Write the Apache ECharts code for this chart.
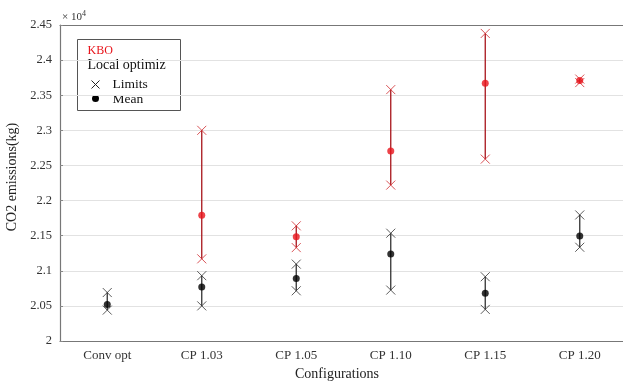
<!DOCTYPE html>
<html>
<head>
<meta charset="utf-8">
<script src="https://cdn.jsdelivr.net/npm/echarts/dist/echarts.min.js"></script>
<style>
  html, body { margin: 0; padding: 0; background: #fff; }
  #chart { width: 623px; height: 384px; }
</style>
</head>
<body>
<div id="chart"></div>
<script>
// values in units of 1e4 kg
var categories = ['Conv opt', 'CP 1.03', 'CP 1.05', 'CP 1.10', 'CP 1.15', 'CP 1.20'];
var kboMean  = [null, 2.179, 2.1485, 2.2705, 2.367, 2.371];
var kboUpper = [null, 2.300, 2.164, 2.358, 2.438, 2.373];
var kboLower = [null, 2.117, 2.133, 2.222, 2.259, 2.368];
var localMean  = [2.052, 2.077, 2.089, 2.124, 2.068, 2.1495];
var localUpper = [2.069, 2.093, 2.1095, 2.1535, 2.0915, 2.1795];
var localLower = [2.044, 2.050, 2.0715, 2.0725, 2.045, 2.1335];
var yTicks = { min: 2, max: 2.45, step: 0.05 };

var FONT = 'Liberation Serif';
var RED = '#e8141b';
var RED_LINE = '#a8141b';
var BLACK = '#000';
var CROSS = 'path://M0,0L10,10M10,0L0,10';

var chart = echarts.init(document.getElementById('chart'));

// helpers to build series data from the arrays
var pairs = function (arr) {
    var res = [];
    arr.forEach(function (v, i) { if (v != null) res.push([i, v]); });
    return res;
};
var ranges = function (lo, hi) {
    var res = [];
    lo.forEach(function (v, i) { if (v != null) res.push([i, v, hi[i]]); });
    return res;
};
var segment = function (color) {
    return function (params, api) {
        var a = api.coord([api.value(0), api.value(1)]);
        var b = api.coord([api.value(0), api.value(2)]);
        return {
            type: 'line',
            shape: { x1: a[0], y1: a[1], x2: b[0], y2: b[1] },
            style: { stroke: color, lineWidth: 1.3 }
        };
    };
};

var xCommon = {
    type: 'category',
    data: categories,
    axisLine: { lineStyle: { color: '#777', width: 1.2 } },
    axisTick: { inside: true, alignWithLabel: true, length: 4, lineStyle: { color: '#555' } }
};

var legendText = function (x, y, text, size, color) {
    return {
        type: 'text', x: x, y: y,
        style: { text: text, font: size + 'px ' + FONT, fill: color, verticalAlign: 'middle' }
    };
};

var option = {
    animation: false,
    textStyle: { fontFamily: FONT },
    grid: { left: 60, top: 25, width: 567, height: 316, outerBoundsMode: 'none', containLabel: false },
    xAxis: [
        Object.assign({}, xCommon, {
            position: 'bottom',
            name: 'Configurations',
            nameLocation: 'middle',
            nameGap: 26,
            nameTextStyle: { fontFamily: FONT, fontSize: 14, color: '#222', padding: [0, 0, 0, -13] },
            axisLabel: { fontFamily: FONT, fontSize: 13, color: '#333', margin: 8 }
        }),
        Object.assign({}, xCommon, {
            position: 'top',
            axisLabel: { show: false }
        })
    ],
    yAxis: {
        type: 'value',
        min: yTicks.min,
        max: yTicks.max,
        interval: yTicks.step,
        name: 'CO2 emissions(kg)',
        nameLocation: 'middle',
        nameGap: 38,
        nameTextStyle: { fontFamily: FONT, fontSize: 14, color: '#222', padding: [0, 0, 0, 12] },
        axisLine: { show: true, lineStyle: { color: '#777', width: 1.2 } },
        axisTick: { show: true, inside: true, length: 3, lineStyle: { color: '#888' } },
        splitLine: { lineStyle: { color: '#e2e2e2', width: 1 } },
        axisLabel: {
            fontFamily: FONT, fontSize: 12.5, color: '#333', margin: 8,
            formatter: function (v) { return String(parseFloat(v.toFixed(2))); }
        }
    },
    graphic: [
        {
            type: 'text', left: 62, top: 10, z: 10,
            style: {
                text: '\u00d7 10{s|4}', font: '11px ' + FONT, fill: '#333',
                rich: { s: { fontSize: 8, verticalAlign: 'top', padding: [0, 0, 6, 0], fontFamily: FONT } }
            }
        },
        {
            type: 'group', left: 77, top: 39, z: 20,
            children: [
                { type: 'rect', shape: { x: 0, y: 0, width: 103, height: 71 },
                  style: { fill: '#fff', stroke: '#555', lineWidth: 1 } },
                legendText(10, 11, 'KBO', 12, RED),
                legendText(10, 26, 'Local optimiz', 14, '#111'),
                { type: 'line', shape: { x1: 14, y1: 41, x2: 22, y2: 49 }, style: { stroke: '#222', lineWidth: 1 } },
                { type: 'line', shape: { x1: 22, y1: 41, x2: 14, y2: 49 }, style: { stroke: '#222', lineWidth: 1 } },
                legendText(35, 45, 'Limits', 13.5, '#111'),
                { type: 'circle', shape: { cx: 18, cy: 59, r: 3.5 }, style: { fill: '#000' } },
                legendText(35, 60, 'Mean', 13.5, '#111')
            ]
        }
    ],
    series: [
        {
            type: 'custom', name: 'Local range',
            renderItem: segment('#333'),
            encode: { x: 0, y: [1, 2] },
            data: ranges(localLower, localUpper), z: 2
        },
        {
            type: 'custom', name: 'KBO range',
            renderItem: segment(RED_LINE),
            encode: { x: 0, y: [1, 2] },
            data: ranges(kboLower, kboUpper), z: 2
        },
        {
            type: 'scatter', name: 'Local limits', symbol: CROSS, symbolSize: 9,
            itemStyle: { color: 'rgba(0,0,0,0)', borderColor: '#333', borderWidth: 1 },
            data: pairs(localUpper).concat(pairs(localLower)), z: 3
        },
        {
            type: 'scatter', name: 'KBO limits', symbol: CROSS, symbolSize: 9,
            itemStyle: { color: 'rgba(0,0,0,0)', borderColor: '#d0282d', borderWidth: 1 },
            data: pairs(kboUpper).concat(pairs(kboLower)), z: 3
        },
        {
            type: 'scatter', name: 'Local mean', symbol: 'circle', symbolSize: 7,
            itemStyle: { color: BLACK },
            data: pairs(localMean), z: 4
        },
        {
            type: 'scatter', name: 'KBO mean', symbol: 'circle', symbolSize: 7,
            itemStyle: { color: RED },
            data: pairs(kboMean), z: 4
        }
    ]
};

chart.setOption(option);
</script>
</body>
</html>
